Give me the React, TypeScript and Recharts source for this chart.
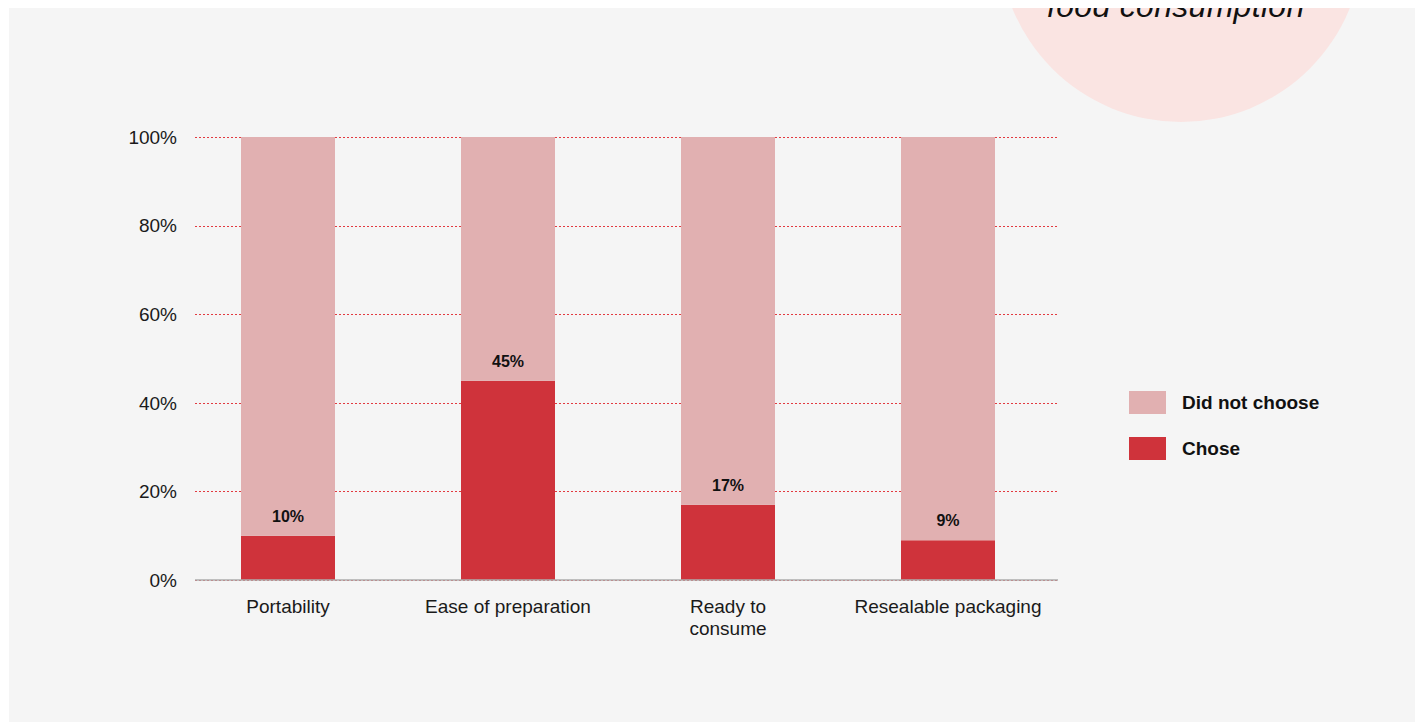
import { BarChart, Bar, XAxis, YAxis, CartesianGrid, Legend, LabelList } from 'recharts'

const categories = ['Portability', 'Ease of preparation', 'Ready to\nconsume', 'Resealable packaging']
const chose = [10, 45, 17, 9]
const didNotChoose = [90, 55, 83, 91]
const yTicks = [0, 20, 40, 60, 80, 100]

const data = categories.map((name, i) => ({
  name,
  chose: chose[i],
  didNotChoose: didNotChoose[i],
}))

const FONT = '"Liberation Sans", Arial, Helvetica, sans-serif'
const PINK = '#e1b0b1'
const RED = '#cf333b'

function CategoryTick({ x, y, payload }: any) {
  const lines = String(payload.value).split('\n')
  return (
    <text x={x} y={y} textAnchor="middle" fill="#1a1a1a" fontSize={19} fontFamily={FONT}>
      {lines.map((l, i) => (
        <tspan key={i} x={x} dy={i === 0 ? 33 : 22}>
          {l}
        </tspan>
      ))}
    </text>
  )
}

// dotted red grid lines, snapped to the pixel grid so they stay crisp
function GridLine(props: any) {
  const { x1, x2, y1 } = props
  const y = Math.round(y1) + 0.5
  return (
    <line
      x1={x1}
      x2={x2}
      y1={y}
      y2={y}
      stroke="#e23a40"
      strokeWidth={1}
      strokeDasharray="2 2"
    />
  )
}

function LegendBox({ payload }: any) {
  const items = [...(payload || [])].reverse()
  return (
    <div style={{ fontFamily: FONT }}>
      {items.map((p: any) => (
        <div key={p.value} style={{ display: 'flex', alignItems: 'center', height: 23, marginBottom: 23 }}>
          <div style={{ width: 37, height: 23, background: p.color, marginRight: 16 }} />
          <span style={{ fontWeight: 700, fontSize: 19, color: '#111' }}>{p.value}</span>
        </div>
      ))}
    </div>
  )
}

export default function App() {
  return (
    <div
      style={{
        position: 'relative',
        marginLeft: 1,
        width: 1407,
        height: 714,
        background: '#f5f5f5',
        fontFamily: FONT,
      }}
    >
      <BarChart
        width={1407}
        height={714}
        data={data}
        margin={{ top: 129, right: 358, left: 106, bottom: 82 }}
      >
        <CartesianGrid
          horizontal={(p: any) => <GridLine key={p.key} {...p} />}
          vertical={false}
          stroke="none"
        />
        <XAxis
          dataKey="name"
          padding={{ left: -17, right: 0 }}
          height={60}
          tickLine={false}
          tickSize={0}
          tickMargin={0}
          interval={0}
          axisLine={{ stroke: '#adadad', strokeWidth: 1.5 }}
          tick={<CategoryTick />}
        />
        <YAxis
          domain={[0, 100]}
          ticks={yTicks}
          tickFormatter={(v: number) => `${v}%`}
          axisLine={false}
          tickLine={false}
          tickSize={0}
          tickMargin={18}
          width={80}
          tick={{ fontSize: 19, fill: '#1a1a1a', fontFamily: FONT }}
        />
        <Legend
          layout="vertical"
          align="center"
          verticalAlign="middle"
          wrapperStyle={{ left: 1120, top: 383, width: 260 }}
          content={<LegendBox />}
        />
        <Bar dataKey="chose" name="Chose" stackId="a" fill={RED} barSize={94} isAnimationActive={false}>
          <LabelList
            dataKey="chose"
            position="top"
            offset={14}
            formatter={(v: any) => `${v}%`}
            style={{ fontSize: 16, fontWeight: 700, fill: '#111', fontFamily: FONT }}
          />
        </Bar>
        <Bar
          dataKey="didNotChoose"
          name="Did not choose"
          stackId="a"
          fill={PINK}
          barSize={94}
          isAnimationActive={false}
        />
      </BarChart>
      <svg
        width={400}
        height={140}
        style={{ position: 'absolute', left: 981, top: -8, pointerEvents: 'none' }}
      >
        <circle cx={191} cy={-60} r={182} fill="#fae4e2" />
        <text
          x={189}
          y={17}
          textAnchor="middle"
          fontSize={32}
          letterSpacing={0.3}
          fontStyle="italic"
          fontFamily={FONT}
          fill="#111"
        >
          food consumption'
        </text>
      </svg>
    </div>
  )
}
